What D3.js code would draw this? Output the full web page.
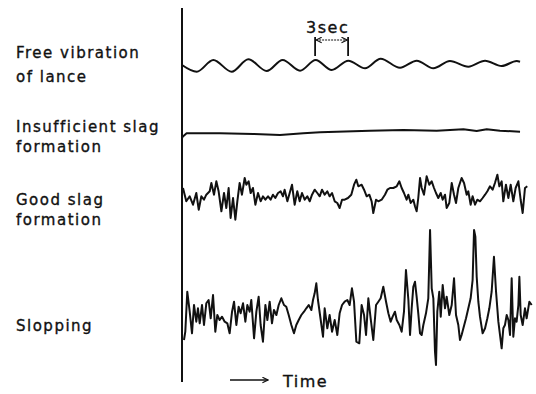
<!DOCTYPE html>
<meta charset="utf-8">
<title>Lance vibration patterns</title>
<style>
  body { margin: 0; background: white; }
  text { font-family: "DejaVu Sans", sans-serif; fill: #111; stroke: #111; stroke-width: 0.35px; }
  .trace { fill: none; stroke: #111; stroke-width: 2px; stroke-linejoin: round; }
</style>
<svg width="536" height="394"></svg>
<script src="https://d3js.org/d3.v7.min.js"></script>
<script>
// time in seconds, amplitude in arbitrary units (positive = up)
var freeVibration = [
  [0, 0.5], [1.34, -6.2], [2.85, 5.5], [4.52, -6.2], [6.03, 6.2], [7.70, -5.5],
  [9.15, 5.5], [10.73, -5.2], [12.15, 5.5], [13.61, -4.5], [15.12, 4.8], [16.64, -2.8],
  [18.06, 6.8], [19.82, -2.2], [21.34, 4.8], [22.85, -2.8], [24.36, 4.5], [26.03, -1.2],
  [27.55, 4.8], [29.06, -0.5], [30.43, 4.5], [30.73, 3.8]
];

var insufficientSlag = [
  [0, -6.3], [0.06, -4.7], [0.42, -1.3], [3.45, -1.3], [6.48, -2], [8.91, -3],
  [11.03, -1.3], [12.55, -0.3], [14.06, 0.3], [17.09, 1.3], [20.12, 2], [23.15, 1.3],
  [25.58, 2.7], [26.79, 1], [27.70, 2.7], [28.91, 1.3], [30.73, 0.3]
];

var goodSlag = [
  [0.09, 9], [0.39, -4.3], [0.70, 0.7], [1.00, -7.7], [1.30, 4], [1.52, -12.7],
  [1.76, 0.7], [2.00, -2.7], [2.21, 2.3], [2.52, 5.7], [2.67, 14], [2.91, 2.3],
  [3.12, 15.7], [3.33, 5.7], [3.58, -14.3], [3.82, 4], [4.03, -11], [4.24, 9],
  [4.42, -21], [4.64, -1], [4.85, -22.7], [5.03, -4.3], [5.24, 14], [5.45, 2.3],
  [5.70, 19], [5.85, 12.3], [6.06, 15.7], [6.24, 4], [6.45, 9], [6.67, -7.7],
  [6.91, 4], [7.15, -4.3], [7.36, 0.7], [7.58, -2.7], [7.82, 0.7], [8.06, -2.7],
  [8.27, 2.3], [8.48, -1], [8.73, 4], [8.97, 5.7], [9.18, 0.7], [9.33, 7.3],
  [9.58, -4.3], [9.79, 4], [10.00, 12.3], [10.24, -7.7], [10.48, 5.7], [10.70, -4.3],
  [10.91, 4], [11.15, -2.7], [11.39, 0.7], [11.61, -4.3], [11.82, 2.3], [12.06, 7.3],
  [12.30, 4], [12.52, 0.7], [12.73, 7.3], [12.97, 2.3], [13.21, 5.7], [13.42, 0.7],
  [13.64, 4], [13.88, -4.3], [14.12, -6], [14.33, -11], [14.55, -2.7], [14.79, -2.7],
  [15.09, -1], [15.39, 2.3], [15.64, 12.3], [15.85, 17.3], [16.03, 10.7], [16.33, 12.3],
  [16.55, 7.3], [16.79, 0.7], [17.03, 2.3], [17.24, -4.3], [17.39, -16], [17.64, -2.7],
  [17.85, -4.3], [18.15, -2.7], [18.45, 2.3], [18.67, 7.3], [18.91, 9], [19.21, 9],
  [19.52, 10.7], [19.76, 15.7], [19.97, 9], [20.18, 4], [20.42, -2.7], [20.58, 2.3],
  [20.79, -6], [21.03, -2.7], [21.18, -9.3], [21.33, -14.3], [21.48, -1], [21.64, 19],
  [21.79, 9], [22.00, 2.3], [22.24, 20.7], [22.48, 12.3], [22.70, 15.7], [22.91, 9],
  [23.09, 4], [23.30, -1], [23.52, 4], [23.70, -2.7], [23.91, 2.3], [24.06, -11],
  [24.30, -6], [24.52, 14], [24.73, 2.3], [24.91, -6], [25.12, 9], [25.42, 19],
  [25.64, 14], [25.88, 2.3], [26.03, 5.7], [26.24, -7.7], [26.42, 0.7], [26.64, -7.7],
  [26.85, -2.7], [27.09, -4.3], [27.33, -1], [27.55, 2.3], [27.76, 5.7], [28.00, 10.7],
  [28.24, 7.3], [28.45, 14], [28.67, 22.3], [28.85, 10.7], [29.06, 15.7], [29.21, -4.3],
  [29.45, 12.3], [29.67, -1], [29.88, 12.3], [30.12, -4.3], [30.33, 9], [30.58, 15.7],
  [30.79, -3], [30.97, -16], [31.18, 9], [31.39, 10.7]
];

var slopping = [
  [0.18, -23], [0.30, -14.7], [0.48, 25.3], [0.70, 5.3], [0.91, -16.3], [1.09, 12],
  [1.30, -4.7], [1.45, 8.7], [1.61, -6.3], [1.82, 12], [2.00, -8], [2.21, 13.7],
  [2.42, 17], [2.61, -1.3], [2.82, 22], [3.03, -14.7], [3.21, 2], [3.42, -3],
  [3.64, 0.3], [3.88, -4.7], [4.12, -6.3], [4.33, -16.3], [4.55, 5.3], [4.73, 15.3],
  [4.94, -8], [5.15, 10.3], [5.33, 3.7], [5.55, 13.7], [5.76, -4.7], [5.94, 12],
  [6.15, 5.3], [6.30, 17], [6.55, -21.3], [6.76, 5.3], [6.97, 20.3], [7.15, -8],
  [7.36, -24.7], [7.58, 12], [7.76, -3], [7.97, 15.3], [8.18, -6.3], [8.36, 7],
  [8.58, 2], [8.79, 12], [9.03, 18.7], [9.27, 12], [9.48, 10.3], [9.70, 2],
  [9.94, -8], [10.18, -16.3], [10.39, -8], [10.61, -3], [10.85, 2], [11.09, 5.3],
  [11.30, 8.7], [11.52, 12], [11.76, 7], [11.91, 17], [12.06, 23.7], [12.21, 33.7],
  [12.36, 17], [12.61, -3], [12.82, -19.7], [12.97, 8.7], [13.21, -11.3], [13.42, 2],
  [13.64, -14.7], [13.88, -3], [14.12, -18], [14.33, 3.7], [14.55, 12], [14.79, 15.3],
  [15.03, 17], [15.24, 12], [15.45, 28.7], [15.64, 15.3], [15.85, -24.7], [16.12, -26.3],
  [16.33, 12], [16.55, 2], [16.73, -18], [16.94, 18.7], [17.15, -1.3], [17.39, -23],
  [17.64, 12], [17.85, 15.3], [18.06, 18.7], [18.30, 30.3], [18.55, 15.3], [18.76, 3.7],
  [18.97, -4.7], [19.15, 0.3], [19.36, 5.3], [19.52, -3], [19.76, -8], [19.97, -14.7],
  [20.18, 5.3], [20.36, 47], [20.58, 17], [20.73, -18], [20.88, 8.7], [21.03, 30.3],
  [21.18, 35.3], [21.33, 20.3], [21.48, 3.7], [21.64, -16.3], [21.79, -18], [21.94, -8],
  [22.18, 3.7], [22.39, 18.7], [22.55, 87], [22.70, 28.7], [22.85, 18.7], [23.00, -34.7],
  [23.09, -48], [23.21, 5.3], [23.39, 25.3], [23.52, 0.3], [23.70, 32], [23.91, 8.7],
  [24.06, 20.3], [24.30, 2], [24.52, 12], [24.73, 38.7], [24.91, 2], [25.12, -8],
  [25.27, -23], [25.42, -18], [25.58, -11.3], [25.82, -1.3], [26.03, 8.7], [26.24, 18.7],
  [26.42, 37], [26.55, 87], [26.67, 80.3], [26.79, 40.3], [26.94, 15.3], [27.09, 0.3],
  [27.33, -16.3], [27.55, -11.3], [27.76, -1.3], [27.94, 8.7], [28.15, 25.3], [28.36, 60.3],
  [28.55, 25.3], [28.76, -4.7], [28.91, -18], [29.06, -31.3], [29.21, -11.3], [29.36, -8],
  [29.52, 2], [29.67, -3], [29.82, -18], [29.97, 38.7], [30.12, -19.7], [30.27, -1.3],
  [30.42, -4.7], [30.58, 12], [30.67, 40.3], [30.79, 2], [30.97, -8], [31.18, 8.7],
  [31.33, -1.3], [31.58, 15.3], [31.79, 12]
];

var labels = [
  ["Free vibration", "of lance"],
  ["Insufficient slag", "formation"],
  ["Good slag", "formation"],
  ["Slopping"]
];

var scaleMark = [12.1, 15.1];   // the 3 s bracket
var scaleText = "3sec";
var timeText = "Time";

var svg = d3.select("svg");

var x = d3.scaleLinear().domain([0, 32]).range([182, 534]);

// one row per trace, each with its own amplitude scale
var rows = [
  { data: freeVibration,    center: 65.5, curve: d3.curveMonotoneX, label: labels[0], ly: 58,  lh: 24 },
  { data: insufficientSlag, center: 132,  curve: d3.curveLinear,    label: labels[1], ly: 132, lh: 20 },
  { data: goodSlag,         center: 197,  curve: d3.curveLinear,    label: labels[2], ly: 205, lh: 20 },
  { data: slopping,         center: 317,  curve: d3.curveLinear,    label: labels[3], ly: 331, lh: 20 }
];

rows.forEach(function(r) {
  var y = d3.scaleLinear().domain([-100, 100]).range([r.center + 100, r.center - 100]);
  var line = d3.line()
      .x(function(d) { return x(d[0]); })
      .y(function(d) { return y(d[1]); })
      .curve(r.curve);
  svg.append("path")
      .datum(r.data)
      .attr("class", "trace")
      .attr("d", line);

  var t = svg.append("text")
      .attr("x", 16)
      .attr("y", r.ly)
      .style("font-size", "15px")
      .style("letter-spacing", "1.5px");
  r.label.forEach(function(s, i) {
    t.append("tspan").attr("x", 16).attr("dy", i ? r.lh : 0).text(s);
  });
});

// vertical axis line
svg.append("line")
    .attr("x1", x(0)).attr("x2", x(0))
    .attr("y1", 8).attr("y2", 382)
    .attr("stroke", "#111").attr("stroke-width", 2);

// arrow heads
var defs = svg.append("defs");
defs.append("marker")
    .attr("id", "head").attr("viewBox", "0 0 10 10")
    .attr("refX", 9).attr("refY", 5)
    .attr("markerWidth", 7).attr("markerHeight", 7)
    .attr("markerUnits", "userSpaceOnUse")
    .attr("orient", "auto-start-reverse")
  .append("path")
    .attr("d", "M1,1 L9,5 L1,9")
    .attr("fill", "none").attr("stroke", "#111").attr("stroke-width", 1.6);

// 3 sec bracket
svg.selectAll(".tick3")
    .data(scaleMark)
  .enter().append("line")
    .attr("x1", function(d) { return x(d); })
    .attr("x2", function(d) { return x(d); })
    .attr("y1", 37).attr("y2", 56)
    .attr("stroke", "#111").attr("stroke-width", 1.8);

svg.append("line")
    .attr("x1", x(scaleMark[0]) + 1).attr("x2", x(scaleMark[1]) - 1)
    .attr("y1", 40).attr("y2", 40)
    .attr("stroke", "#111").attr("stroke-width", 1.2)
    .attr("stroke-dasharray", "2,1")
    .attr("marker-start", "url(#head)")
    .attr("marker-end", "url(#head)");

svg.append("text")
    .attr("x", (x(scaleMark[0]) + x(scaleMark[1])) / 2 - 4)
    .attr("y", 33)
    .attr("text-anchor", "middle")
    .style("font-size", "16px")
    .style("letter-spacing", "1.5px")
    .text(scaleText);

// time arrow
svg.append("line")
    .attr("x1", 230).attr("x2", 268)
    .attr("y1", 380).attr("y2", 380)
    .attr("stroke", "#111").attr("stroke-width", 1.4)
    .attr("marker-end", "url(#head)");

svg.append("text")
    .attr("x", 283)
    .attr("y", 387)
    .style("font-size", "16px")
    .style("letter-spacing", "1.5px")
    .text(timeText);
</script>
